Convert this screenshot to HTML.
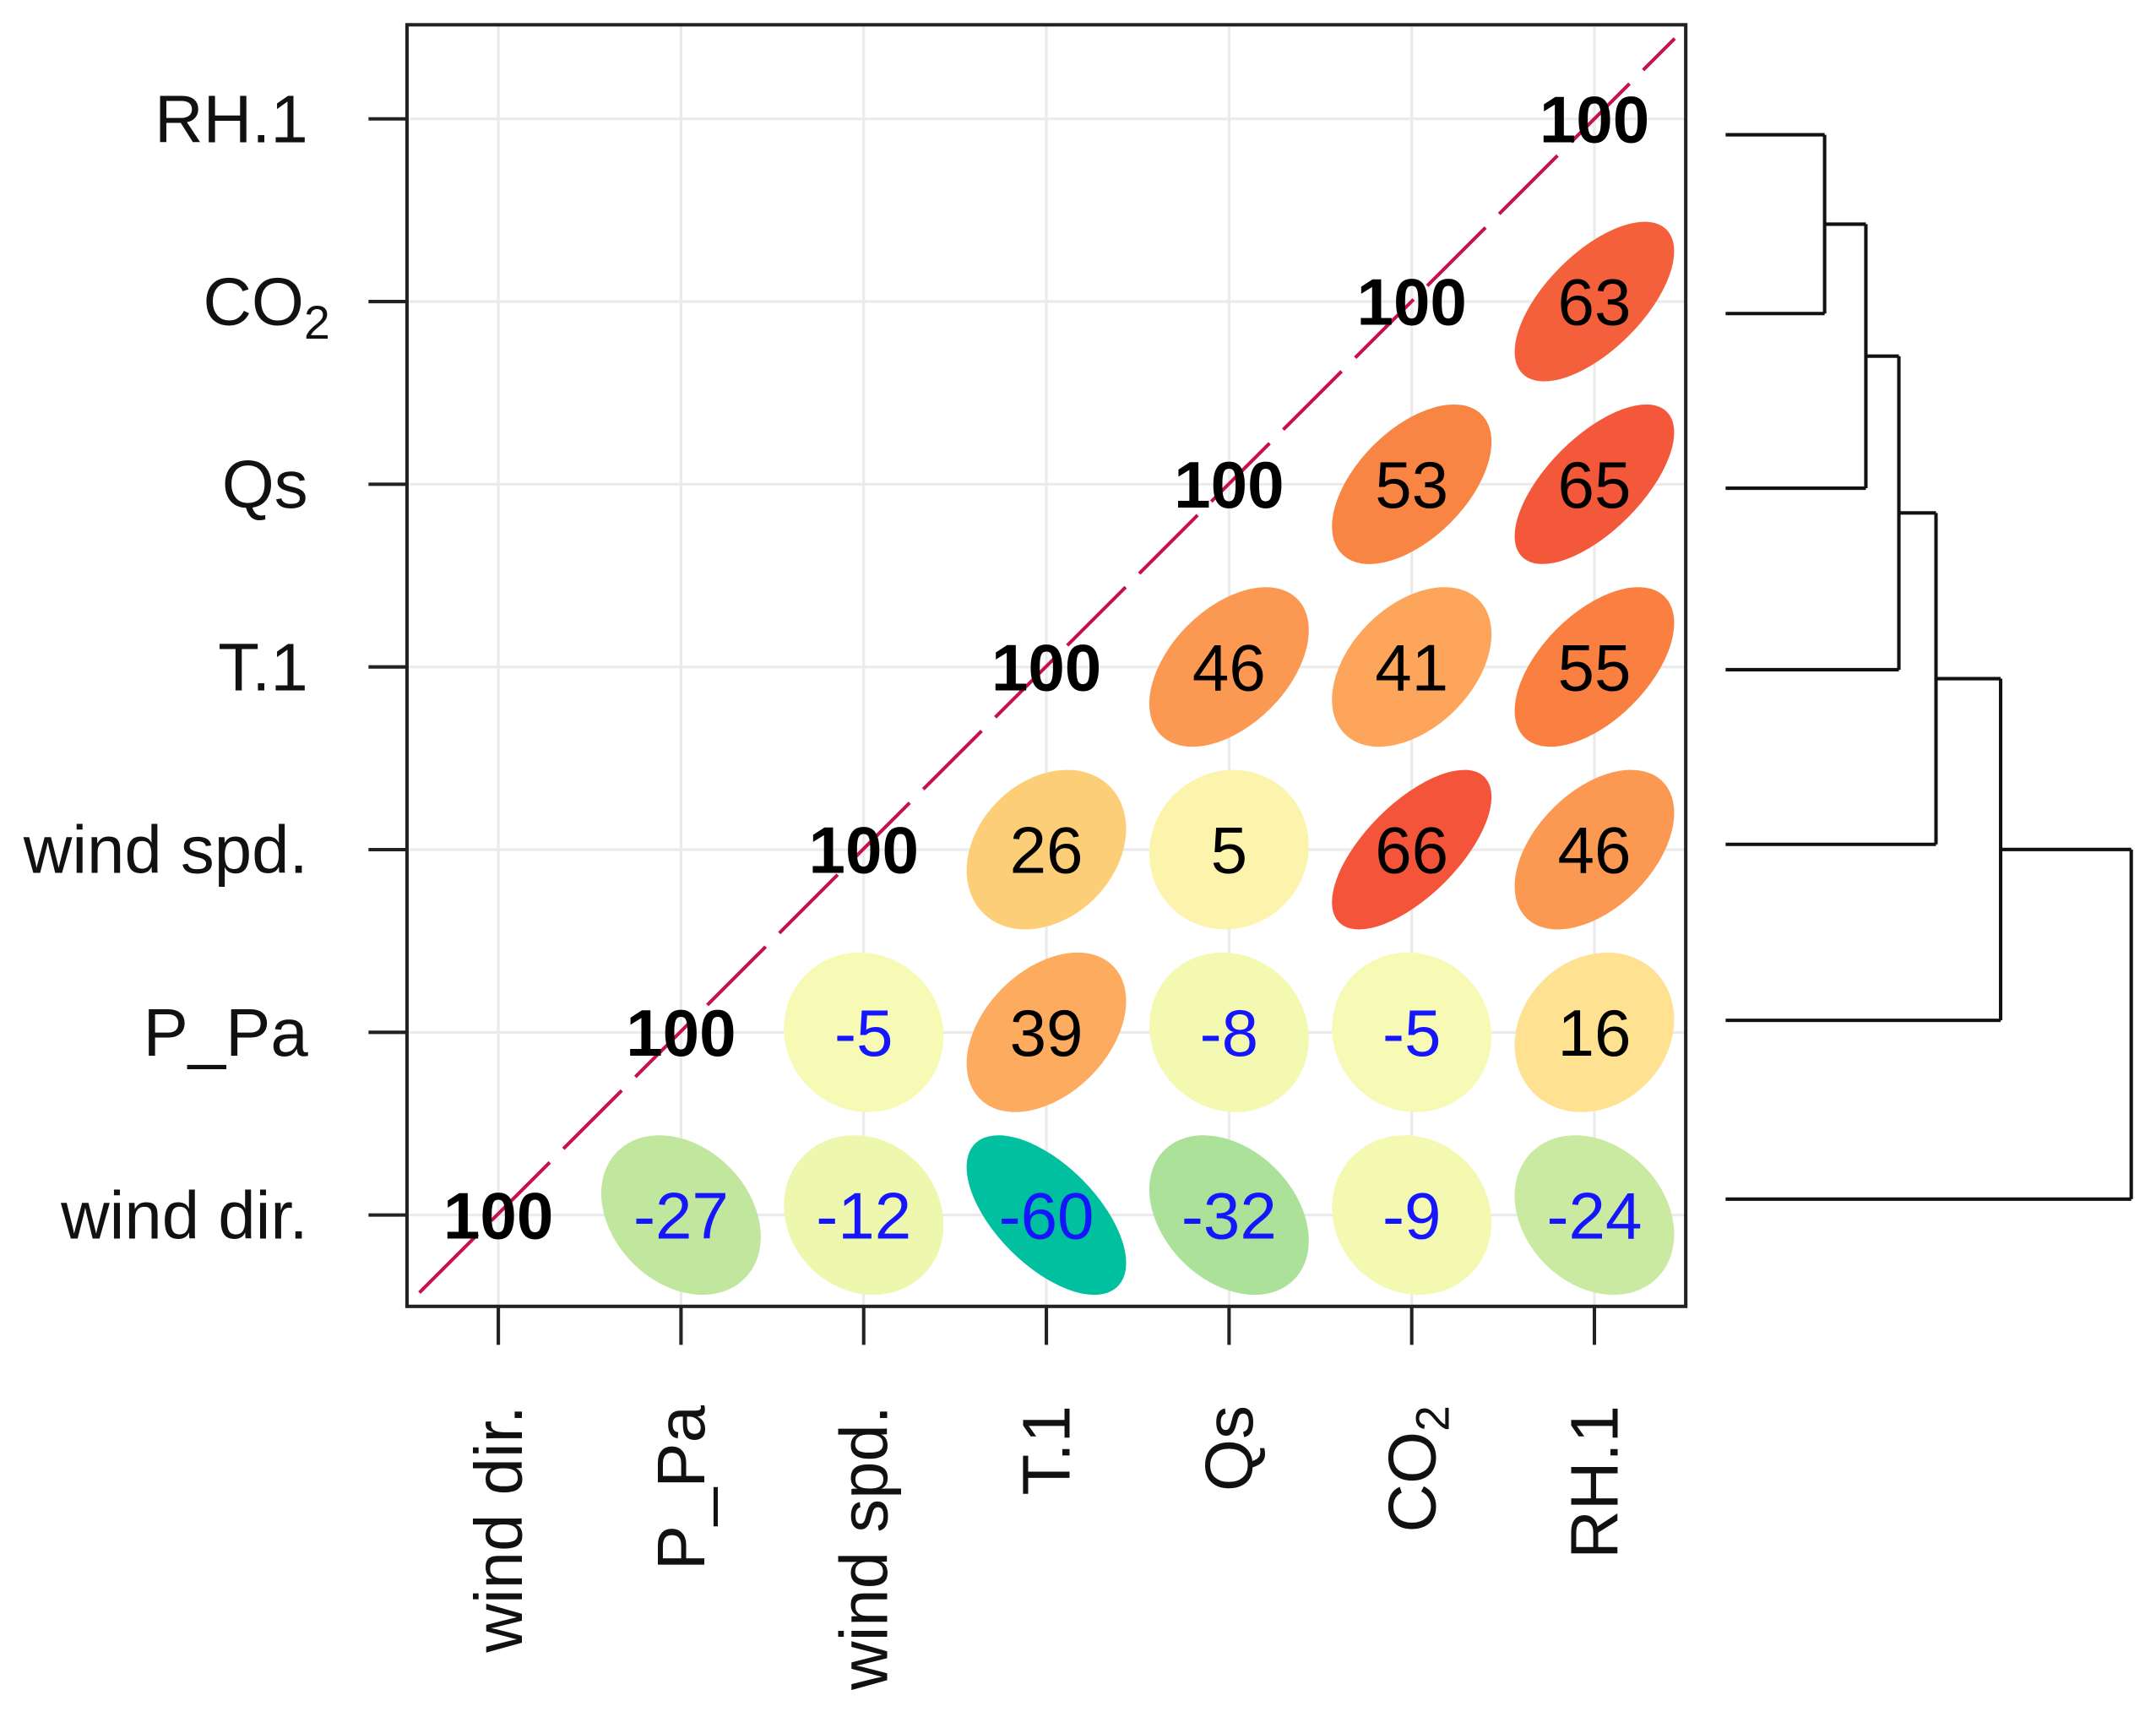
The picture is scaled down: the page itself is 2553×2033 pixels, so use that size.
<!DOCTYPE html>
<html><head><meta charset="utf-8"><style>
html,body{margin:0;padding:0;background:#fff}
svg{display:block;font-family:"Liberation Sans",Arial,sans-serif}
</style></head><body>
<svg id="chart" width="2553" height="2033" viewBox="0 0 1568 1248.6" xmlns="http://www.w3.org/2000/svg"></svg>
<script>
const variables = ["wind dir.","P_Pa","wind spd.","T.1","Qs","CO2","RH.1"];
const corrRow0 = [100,-27,-12,-60,-32,-9,-24];
const corrRow1 = [100,-5,39,-8,-5,16];
const corrRow2 = [100,26,5,66,46];
const corrRow3 = [100,46,41,55];
const corrRow4 = [100,53,65];
const corrRow5 = [100,63];
const corrRow6 = [100];
const corrRows = [corrRow0,corrRow1,corrRow2,corrRow3,corrRow4,corrRow5,corrRow6];
const dendroHeights = [1327,1357,1381,1408,1455,1550];

const svg = document.getElementById('chart');
const NS = "http://www.w3.org/2000/svg";
function mk(tag, attrs, parent){const e=document.createElementNS(NS,tag);for(const k in attrs)e.setAttribute(k,attrs[k]);(parent||svg).appendChild(e);return e;}

const x0=296,x1=1226,y0=18,y1=950,n=variables.length,cw=(x1-x0)/n;
const xc = i => x0 + cw*(i+0.5);
const yc = i => y1 - cw*(i+0.5);

const stops=[[-1,[0,150,130]],[-0.6,[0,192,160]],[-0.3,[184,227,154]],[-0.1,[243,249,176]],[0,[250,251,184]],[0.1,[254,236,160]],[0.25,[253,209,122]],[0.4,[252,168,93]],[0.55,[249,128,64]],[0.66,[244,84,58]],[1,[215,25,28]]];
function col(r){for(let k=0;k<stops.length-1;k++){const a=stops[k],b=stops[k+1];if(r>=a[0]&&r<=b[0]){const t=(r-a[0])/(b[0]-a[0]);const c=a[1].map((v,i)=>Math.round(v+(b[1][i]-v)*t));return `rgb(${c.join(',')})`;}}return 'rgb(215,25,28)';}

for(let i=0;i<n;i++){
  let g=mk('line',{x1:xc(i),x2:xc(i),y1:y0,y2:y1,stroke:'#ebebeb','stroke-width':2});
  
  g=mk('line',{x1:x0,x2:x1,y1:yc(i),y2:yc(i),stroke:'#ebebeb','stroke-width':2});
  
}
const dl=mk('line',{x1:305,y1:940,x2:1218,y2:28,stroke:'#c8104a','stroke-width':2.5,'stroke-dasharray':'60 14'});


const R=58;
for(let i=0;i<n;i++){
  const row=corrRows[i];
  for(let k=0;k<row.length;k++){
    const j=i+k, v=row[k], r=v/100, cx=xc(j), cy=yc(i);
    if(j!==i){
      const a=R*Math.sqrt(1+Math.abs(r)), b=R*Math.sqrt(1-Math.abs(r));
      const rot = r>=0 ? -45 : 45;
      const el=mk('ellipse',{cx:cx,cy:cy,rx:a,ry:b,fill:col(r),transform:`rotate(${rot} ${cx} ${cy})`});
      
    }
    const t=mk('text',{x:cx,y:cy+17,'text-anchor':'middle','font-size':48,fill:j===i?'#000':(v<0?'#1515ff':'#000'),'font-weight':j===i?'bold':'normal'});
    t.textContent=v;
    
  }
}
const fr=mk('rect',{x:x0,y:y0,width:x1-x0,height:y1-y0,fill:'none',stroke:'#222','stroke-width':2.5});


function label(name,parent){
  if(name==='CO2'){parent.appendChild(document.createTextNode('CO'));const s=mk('tspan',{'font-size':34,dy:10},parent);s.textContent='2';}
  else parent.textContent=name;
}
for(let i=0;i<n;i++){
  let tk=mk('line',{x1:268,x2:x0,y1:yc(i),y2:yc(i),stroke:'#222','stroke-width':2.5});
  
  let t=mk('text',{x:variables[i]==='CO2'?240:224,y:yc(i)+17,'text-anchor':'end','font-size':49,fill:'#111'});
  label(variables[i],t);
  
  tk=mk('line',{x1:xc(i),x2:xc(i),y1:y1,y2:978,stroke:'#222','stroke-width':2.5});
  
  const lx=xc(i)+17, ly=1022;
  t=mk('text',{x:lx,y:ly,'text-anchor':'end','font-size':49,fill:'#111',transform:`rotate(-90 ${lx} ${ly})`});
  label(variables[i],t);
  
}
const leafY=[98,228,355,487,614,742,872];
let prevX=1255, prevY=leafY[0];
for(let m=0;m<dendroHeights.length;m++){
  const h=dendroHeights[m], ny=leafY[m+1];
  const d=`M${prevX},${prevY} H${h} M1255,${ny} H${h} M${h},${prevY} V${ny}`;
  const p=mk('path',{d:d,stroke:'#111','stroke-width':2.5,fill:'none'});
  
  prevX=h; prevY=(prevY+ny)/2;
}
</script>
</body></html>
